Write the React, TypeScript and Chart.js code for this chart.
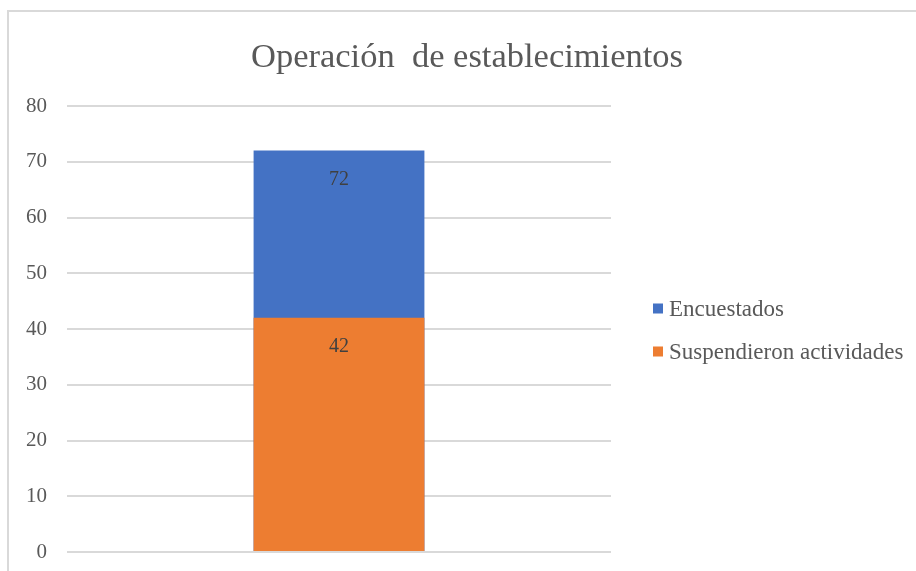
import React, { useEffect, useRef } from "react";
import { Chart, registerables } from "chart.js";

Chart.register(...registerables);

const categories = ["Establecimientos"];
const encuestados = [72];
const suspendieron = [42];
const seriesNames = ["Encuestados", "Suspendieron actividades"];
const seriesColors = ["#4472C4", "#ED7D31"];
const yMin = 0;
const yMax = 80;
const yStep = 10;
const titleText = "Operación  de establecimientos";

const SERIF = "'Liberation Serif', 'Times New Roman', serif";
const TEXT = "#595959";

const framePlugin = {
  id: "frame",
  beforeDraw(chart: any) {
    const { ctx, width, height } = chart;
    ctx.save();
    ctx.fillStyle = "#ffffff";
    ctx.fillRect(0, 0, width, height);
    ctx.strokeStyle = "#d9d9d9";
    ctx.lineWidth = 2;
    ctx.beginPath();
    ctx.moveTo(8, height);
    ctx.lineTo(8, 11);
    ctx.lineTo(width, 11);
    ctx.stroke();
    ctx.restore();
  },
};

const titlePlugin = {
  id: "customTitle",
  afterDraw(chart: any) {
    const { ctx } = chart;
    ctx.save();
    ctx.font = `34.5px ${SERIF}`;
    ctx.fillStyle = TEXT;
    ctx.textAlign = "center";
    ctx.textBaseline = "alphabetic";
    ctx.fillText(titleText, 467, 67);
    ctx.restore();
  },
};

const valueLabelPlugin = {
  id: "valueLabels",
  afterDatasetsDraw(chart: any) {
    const { ctx } = chart;
    ctx.save();
    ctx.font = `20px ${SERIF}`;
    ctx.fillStyle = "#404040";
    ctx.textAlign = "center";
    ctx.textBaseline = "middle";
    chart.data.datasets.forEach((ds: any, di: number) => {
      const meta = chart.getDatasetMeta(di);
      meta.data.forEach((el: any, i: number) => {
        ctx.fillText(String(ds.data[i]), el.x, el.y + 29);
      });
    });
    ctx.restore();
  },
};

const legendPlugin = {
  id: "customLegend",
  afterDraw(chart: any) {
    const { ctx, chartArea } = chart;
    const cx = chartArea.right + 42;
    const midY = (chartArea.top + chartArea.bottom) / 2;
    const gap = 43;
    ctx.save();
    ctx.font = `23px ${SERIF}`;
    ctx.textBaseline = "middle";
    ctx.textAlign = "left";
    chart.data.datasets.forEach((ds: any, i: number) => {
      const y = midY - gap / 2 + i * gap + 1;
      ctx.fillStyle = ds.backgroundColor;
      ctx.fillRect(cx, y - 5, 10, 10);
      ctx.fillStyle = TEXT;
      ctx.fillText(ds.label, cx + 16, y + 1);
    });
    ctx.restore();
  },
};

export default function App() {
  const ref = useRef<HTMLCanvasElement | null>(null);

  useEffect(() => {
    if (!ref.current) return;
    const chart = new Chart(ref.current, {
      type: "bar",
      data: {
        labels: categories,
        datasets: [
          {
            label: seriesNames[0],
            data: encuestados,
            backgroundColor: seriesColors[0],
            grouped: false,
            order: 2,
            barPercentage: 0.314,
            categoryPercentage: 1,
          } as any,
          {
            label: seriesNames[1],
            data: suspendieron,
            backgroundColor: seriesColors[1],
            grouped: false,
            order: 1,
            barPercentage: 0.314,
            categoryPercentage: 1,
          } as any,
        ],
      },
      options: {
        animation: false,
        responsive: false,
        devicePixelRatio: 1,
        layout: { padding: { top: 106, bottom: 19, left: 0, right: 305 } },
        plugins: {
          legend: { display: false },
          title: { display: false },
          tooltip: { enabled: false },
        },
        scales: {
          x: { display: false },
          y: {
            min: yMin,
            max: yMax,
            ticks: {
              stepSize: yStep,
              color: TEXT,
              font: { family: SERIF, size: 21 },
              padding: 20,
            },
            grid: { color: "#d9d9d9", lineWidth: 2, drawTicks: false },
            border: { display: false },
            afterFit: (scale: any) => {
              scale.width = 67;
              scale.paddingTop = 0;
              scale.paddingBottom = 0;
            },
          },
        },
      },
      plugins: [framePlugin, valueLabelPlugin, legendPlugin, titlePlugin],
    });
    return () => chart.destroy();
  }, []);

  return (
    <div style={{ position: "fixed", left: 0, top: 0, width: 916, height: 571 }}>
      <canvas ref={ref} width={916} height={571} style={{ display: "block" }} />
    </div>
  );
}
